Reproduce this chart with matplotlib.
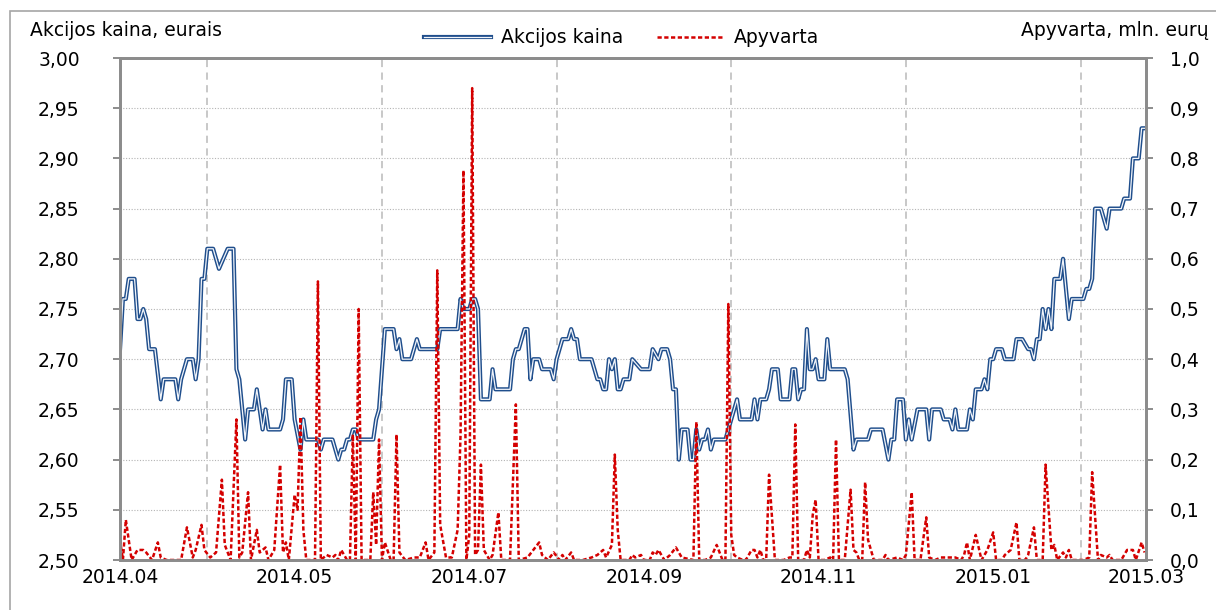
import matplotlib
matplotlib.use('Agg')
import matplotlib.pyplot as plt
from matplotlib import patheffects as pe
from matplotlib.patches import Rectangle
from matplotlib.ticker import FuncFormatter, MultipleLocator

# Share price (EUR); day = days since 2014-04-01
price_day = [0, 1, 2, 3, 5, 6, 7, 8, 9, 10,
             12, 14, 15, 19, 20, 21, 23, 25, 26, 27,
             28, 29, 30, 32, 34, 37, 39, 40, 41, 43,
             44, 46, 47, 48, 49, 50, 51, 55, 56, 57,
             59, 60, 62, 63, 64, 68, 69, 70, 73, 75,
             76, 77, 78, 79, 80, 81, 82, 87, 88, 89,
             91, 94, 95, 96, 97, 100, 102, 103, 109, 110,
             116, 117, 118, 120, 121, 122, 123, 124, 127, 128,
             129, 134, 135, 136, 137, 139, 140, 141, 142, 144,
             145, 148, 149, 150, 152, 154, 155, 156, 157, 158,
             162, 164, 165, 166, 167, 168, 169, 170, 171, 172,
             173, 175, 176, 179, 182, 183, 185, 186, 188, 189,
             190, 191, 192, 193, 195, 196, 197, 198, 199, 200,
             201, 202, 203, 204, 208, 209, 212, 213, 217, 218,
             219, 220, 222, 223, 224, 226, 227, 230, 231, 232,
             233, 234, 235, 236, 237, 238, 239, 240, 242, 243,
             244, 249, 250, 252, 253, 257, 258, 262, 264, 265,
             266, 267, 269, 270, 271, 272, 274, 277, 278, 279,
             282, 283, 285, 286, 287, 288, 291, 292, 293, 294,
             296, 297, 298, 299, 300, 301, 303, 304, 307, 308,
             310, 312, 313, 314, 315, 316, 317, 318, 319, 320,
             321, 323, 324, 326, 327, 331, 332, 333, 334, 335,
             337, 339, 340, 344, 345, 347, 348, 350, 351, 352]
price = [2.71, 2.76, 2.76, 2.78, 2.78, 2.74, 2.74, 2.75, 2.74, 2.71,
         2.71, 2.66, 2.68, 2.68, 2.66, 2.68, 2.70, 2.70, 2.68, 2.70,
         2.78, 2.78, 2.81, 2.81, 2.79, 2.81, 2.81, 2.69, 2.68, 2.62,
         2.65, 2.65, 2.67, 2.65, 2.63, 2.65, 2.63, 2.63, 2.64, 2.68,
         2.68, 2.64, 2.61, 2.64, 2.62, 2.62, 2.61, 2.62, 2.62, 2.60,
         2.61, 2.61, 2.62, 2.62, 2.63, 2.63, 2.62, 2.62, 2.64, 2.65,
         2.73, 2.73, 2.71, 2.72, 2.70, 2.70, 2.72, 2.71, 2.71, 2.73,
         2.73, 2.76, 2.75, 2.75, 2.76, 2.76, 2.75, 2.66, 2.66, 2.69,
         2.67, 2.67, 2.70, 2.71, 2.71, 2.73, 2.73, 2.68, 2.70, 2.70,
         2.69, 2.69, 2.68, 2.70, 2.72, 2.72, 2.73, 2.72, 2.72, 2.70,
         2.70, 2.68, 2.68, 2.67, 2.67, 2.70, 2.69, 2.70, 2.67, 2.67,
         2.68, 2.68, 2.70, 2.69, 2.69, 2.71, 2.70, 2.71, 2.71, 2.70,
         2.67, 2.67, 2.60, 2.63, 2.63, 2.60, 2.60, 2.63, 2.61, 2.62,
         2.62, 2.63, 2.61, 2.62, 2.62, 2.63, 2.66, 2.64, 2.64, 2.66,
         2.64, 2.66, 2.66, 2.67, 2.69, 2.69, 2.66, 2.66, 2.69, 2.69,
         2.66, 2.67, 2.67, 2.73, 2.69, 2.69, 2.70, 2.68, 2.68, 2.72,
         2.69, 2.69, 2.68, 2.61, 2.62, 2.62, 2.63, 2.63, 2.60, 2.62,
         2.62, 2.66, 2.66, 2.62, 2.64, 2.62, 2.65, 2.65, 2.62, 2.65,
         2.65, 2.64, 2.64, 2.63, 2.65, 2.63, 2.63, 2.65, 2.64, 2.67,
         2.67, 2.68, 2.67, 2.70, 2.70, 2.71, 2.71, 2.70, 2.70, 2.72,
         2.72, 2.71, 2.71, 2.70, 2.72, 2.72, 2.75, 2.73, 2.75, 2.73,
         2.78, 2.78, 2.80, 2.74, 2.76, 2.76, 2.77, 2.77, 2.78, 2.85,
         2.85, 2.83, 2.85, 2.85, 2.86, 2.86, 2.90, 2.90, 2.93, 2.93]

# Turnover (mln. EUR); day = days since 2014-04-01
turnover_day = [0, 1, 2, 4, 6, 8, 9, 11, 13, 14,
                16, 21, 23, 25, 26, 28, 29, 31, 33, 35,
                36, 38, 40, 41, 42, 44, 45, 47, 48, 50,
                51, 53, 55, 56, 57, 58, 60, 61, 62, 63,
                64, 67, 68, 69, 71, 73, 74, 75, 76, 78,
                79, 80, 81, 82, 83, 86, 87, 88, 89, 90,
                91, 93, 94, 95, 96, 98, 101, 103, 105, 106,
                108, 109, 110, 112, 114, 116, 117, 118, 119, 120,
                121, 122, 123, 124, 125, 127, 128, 130, 131, 134,
                136, 137, 140, 142, 144, 145, 147, 149, 151, 152,
                153, 155, 156, 159, 162, 164, 166, 167, 169, 170,
                171, 172, 175, 176, 177, 179, 180, 182, 183, 184,
                185, 187, 189, 191, 193, 197, 198, 199, 201, 203,
                205, 207, 208, 209, 210, 211, 212, 214, 215, 217,
                218, 219, 220, 221, 222, 223, 225, 228, 230, 231,
                232, 233, 235, 236, 237, 238, 239, 240, 242, 244,
                245, 246, 247, 249, 251, 252, 253, 254, 255, 256,
                257, 259, 262, 263, 264, 267, 269, 270, 272, 273,
                275, 277, 278, 280, 282, 285, 287, 289, 290, 291,
                292, 294, 296, 297, 298, 300, 301, 303, 304, 306,
                308, 309, 311, 312, 314, 315, 317, 318, 320, 321,
                322, 324, 325, 326, 327, 331, 333, 334, 336, 337,
                339, 340, 341, 344, 346, 348, 349, 351, 352]
turnover = [0.04, 0, 0.08, 0, 0.02, 0.02, 0.015, 0, 0.035, 0.005,
            0, 0, 0.065, 0.005, 0.02, 0.07, 0.02, 0.005, 0.015, 0.16,
            0.03, 0, 0.28, 0.005, 0.015, 0.135, 0, 0.06, 0.015, 0.025,
            0, 0.02, 0.19, 0.015, 0.035, 0, 0.13, 0.10, 0.285, 0.06,
            0, 0, 0.555, 0, 0.01, 0.005, 0.01, 0, 0.02, 0,
            0, 0.25, 0, 0.50, 0, 0, 0.135, 0.03, 0.24, 0,
            0.035, 0, 0, 0.25, 0.015, 0, 0.005, 0.005, 0.035, 0,
            0.015, 0.577, 0.07, 0.005, 0.005, 0.06, 0.25, 0.776, 0, 0.05,
            0.94, 0.01, 0.02, 0.19, 0.02, 0, 0.01, 0.095, 0, 0,
            0.31, 0, 0.005, 0.02, 0.035, 0.01, 0, 0.015, 0, 0.01,
            0, 0.015, 0, 0, 0.005, 0.01, 0.02, 0.005, 0.03, 0.21,
            0.06, 0, 0, 0.01, 0.005, 0.01, 0, 0, 0.015, 0.01,
            0.02, 0, 0.01, 0.025, 0.005, 0, 0.275, 0, 0, 0.005,
            0.03, 0, 0, 0.51, 0.05, 0.01, 0.005, 0, 0, 0.02,
            0.02, 0.005, 0.02, 0, 0, 0.17, 0, 0, 0.005, 0.005,
            0.27, 0, 0, 0.02, 0.005, 0.09, 0.12, 0, 0, 0.005,
            0, 0.24, 0, 0, 0.14, 0.02, 0.015, 0, 0, 0.155,
            0.04, 0, 0, 0.01, 0, 0.005, 0, 0.01, 0.135, 0,
            0, 0.085, 0.005, 0, 0.005, 0.005, 0.005, 0, 0.01, 0.035,
            0, 0.05, 0, 0.01, 0.02, 0.055, 0, 0, 0.01, 0.02,
            0.075, 0, 0, 0.01, 0.065, 0, 0, 0.19, 0.02, 0.03,
            0, 0.015, 0.005, 0.02, 0, 0, 0.005, 0.175, 0, 0.01,
            0.005, 0.01, 0, 0, 0.02, 0.02, 0, 0.035, 0.015]

date_labels = ['2014.04', '2014.05', '2014.07', '2014.09', '2014.11', '2015.01', '2015.03']
label_day = [0, 60, 120, 180, 240, 300, 352.5]

FS = 13.5
GRAY = '#8c8c8c'
BLUE = '#1f4e8c'
RED = '#d40000'

fig = plt.figure(figsize=(12.16, 6.10), dpi=100)
ax = fig.add_axes([120 / 1216, 1 - 560 / 610, 1026 / 1216, 502 / 610])
ax2 = ax.twinx()

# price: double line (dark outline, light core)
ax.plot(price_day, price, color='#f2f5fa', lw=0.9, label='Akcijos kaina',
        path_effects=[pe.Stroke(linewidth=3.0, foreground=BLUE), pe.Normal()])
ax2.plot(turnover_day, turnover, color=RED, lw=1.8, dashes=(1.7, 1.0), label='Apyvarta')

ax.set_xlim(0, 352.5)
ax.set_ylim(2.50, 3.00)
ax2.set_ylim(0, 1.0)

ax.yaxis.set_major_locator(MultipleLocator(0.05))
ax.yaxis.set_major_formatter(FuncFormatter(lambda v, p: f'{v:.2f}'.replace('.', ',')))
ax2.yaxis.set_major_locator(MultipleLocator(0.1))
ax2.yaxis.set_major_formatter(FuncFormatter(lambda v, p: f'{v:.1f}'.replace('.', ',')))

ax.set_xticks(label_day)
ax.set_xticklabels(date_labels)
ax.xaxis.set_minor_locator(MultipleLocator(30))

ax.grid(axis='y', which='major', linestyle=(0, (1, 1.5)), color='#b4b4b4', lw=0.8)
ax.grid(axis='x', which='minor', linestyle=(0, (4, 3)), color='#c4c4c4', lw=1.3)
ax.set_axisbelow(True)

ax.tick_params(axis='x', which='both', length=0, pad=6, labelsize=FS)
ax.tick_params(axis='y', direction='out', length=5, width=1.4, color=GRAY, pad=24, labelsize=FS)
ax2.tick_params(axis='y', direction='out', length=5, width=1.4, color=GRAY, pad=12, labelsize=FS)

for a in (ax, ax2):
    for s in a.spines.values():
        s.set_color(GRAY)
        s.set_linewidth(2.0)

h1, l1 = ax.get_legend_handles_labels()
h2, l2 = ax2.get_legend_handles_labels()
fig.legend(h1 + h2, l1 + l2, loc='center', bbox_to_anchor=(0.511, 0.938), ncol=2,
           frameon=False, fontsize=FS, handlelength=3.6, handletextpad=0.5,
           columnspacing=1.8)

fig.text(30 / 1216, 1 - 31 / 610, 'Akcijos kaina, eurais', ha='left', va='center', fontsize=FS)
fig.text(1209 / 1216, 1 - 31 / 610, 'Apyvarta, mln. eurų', ha='right', va='center', fontsize=FS)

# outer chart frame
fig.add_artist(Rectangle((10 / 1216, -0.05), 1.0, 1.05 - 11 / 610, transform=fig.transFigure,
                         fill=False, edgecolor='#a6a6a6', lw=1.2))

fig.savefig('out.png', dpi=100)
